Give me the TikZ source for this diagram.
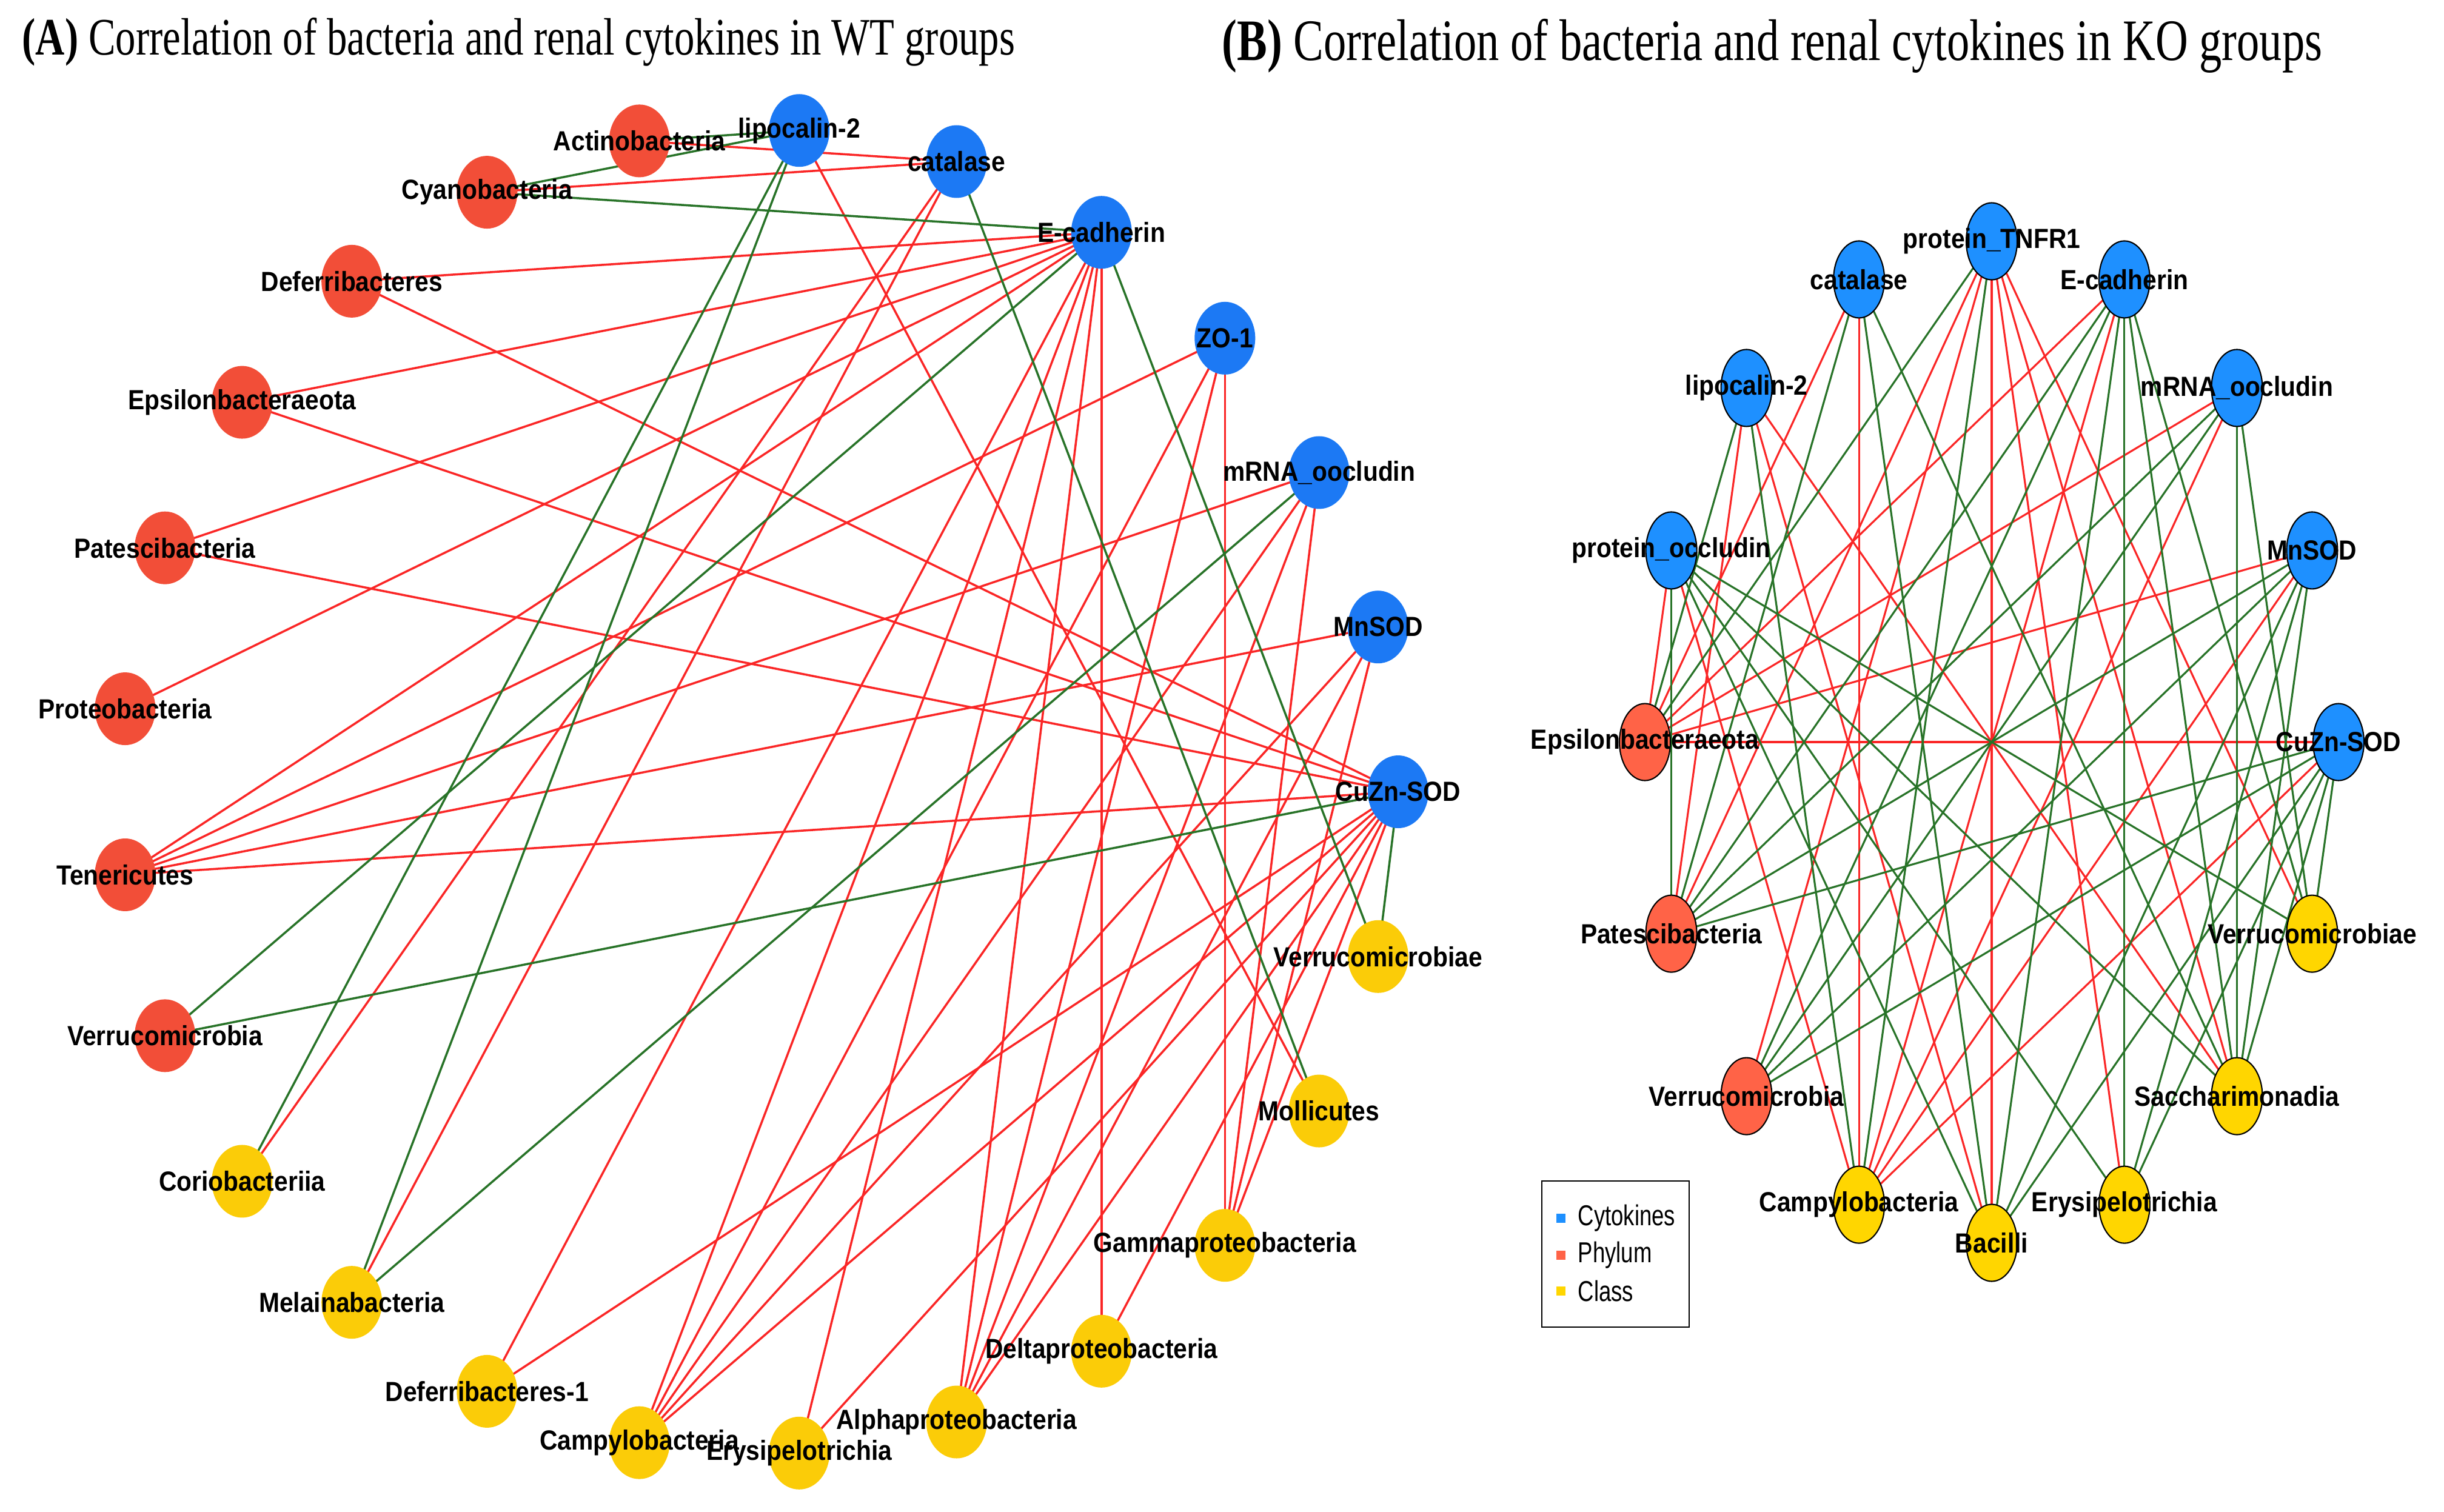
\documentclass[tikz,border=0pt]{standalone}
\usepackage{fontspec}
\setmainfont{Liberation Serif}
\setsansfont{Liberation Sans}
\usetikzlibrary{shapes.geometric}

% node and edge colours
\definecolor{aBlue}{RGB}{28,121,244}
\definecolor{aRed}{RGB}{242,78,56}
\definecolor{aYellow}{RGB}{251,204,8}
\definecolor{bBlue}{RGB}{30,144,255}
\definecolor{bRed}{RGB}{255,99,71}
\definecolor{bYellow}{RGB}{255,214,0}
\definecolor{posRed}{RGB}{250,38,38}
\definecolor{negGreen}{RGB}{40,115,40}

\pgfdeclarelayer{edges}
\pgfsetlayers{edges,main}

\tikzset{
  anode/.style={ellipse, minimum width=1cm, minimum height=1.2cm, inner sep=0pt},
  bnode/.style={ellipse, draw=black, line width=0.6pt, minimum width=0.84cm, minimum height=1.27cm, inner sep=0pt},
  nlbl/.style={font=\sffamily\bfseries\fontsize{11.6}{12}\selectfont, inner sep=0pt, yscale=1.12, transform shape},
  ttl/.style={font=\fontsize{19}{22}\selectfont, inner sep=0pt, yscale=1.3, transform shape},
  redA/.style={draw=posRed, line width=1.0pt},
  greenA/.style={draw=negGreen, line width=1.0pt},
  redB/.style={draw=posRed, line width=0.9pt},
  greenB/.style={draw=negGreen, line width=0.9pt},
}

\begin{document}
\begin{tikzpicture}

    \useasboundingbox (0,0) rectangle (40.31,-24.93);

    % TITLES
    \node[ttl, anchor=base west] (titleA) at (0.36,-0.90)
        {\textbf{(A)} Correlation of bacteria and renal cytokines in WT groups};
    \node[ttl, font=\fontsize{21.2}{24}\selectfont, anchor=base west] (titleB) at (20.15,-0.99)
        {\textbf{(B)} Correlation of bacteria and renal cytokines in KO groups};

    % LEFT PART (WT), 25 nodes on a circle

    % Cytokines
    \foreach \n/\a in {aCuZn/0, aMnSOD/14.4, aMRNA/28.8, aZO/43.2, aEcad/57.6, aCat/72, aLcn/86.4}
        \node[anode, fill=aBlue] (\n) at ([shift={(12.52,-13.06)}]\a:10.54 and 10.93) {};
    % Phylum
    \foreach \n/\a in {aActino/100.8, aCyano/115.2, aDefer/129.6, aEpsi/144, aPates/158.4,
                       aProteo/172.8, aTeneri/187.2, aVerru/201.6}
        \node[anode, fill=aRed] (\n) at ([shift={(12.52,-13.06)}]\a:10.54 and 10.93) {};
    % Class
    \foreach \n/\a in {aCorio/216, aMelai/230.4, aDeferB/244.8, aCampy/259.2, aErysi/273.6,
                       aAlpha/288, aDelta/302.4, aGamma/316.8, aMolli/331.2, aVerrae/345.6}
        \node[anode, fill=aYellow] (\n) at ([shift={(12.52,-13.06)}]\a:10.54 and 10.93) {};

    % Labels
    \foreach \n/\t in {aCuZn/CuZn-SOD, aMnSOD/MnSOD, aMRNA/mRNA\_oocludin, aZO/ZO-1,
                       aEcad/E-cadherin, aCat/catalase, aLcn/lipocalin-2,
                       aActino/Actinobacteria, aCyano/Cyanobacteria, aDefer/Deferribacteres,
                       aEpsi/Epsilonbacteraeota, aPates/Patescibacteria, aProteo/Proteobacteria,
                       aTeneri/Tenericutes, aVerru/Verrucomicrobia, aCorio/Coriobacteriia,
                       aMelai/Melainabacteria, aDeferB/Deferribacteres-1, aCampy/Campylobacteria,
                       aErysi/Erysipelotrichia, aAlpha/Alphaproteobacteria, aDelta/Deltaproteobacteria,
                       aGamma/Gammaproteobacteria, aMolli/Mollicutes, aVerrae/Verrucomicrobiae}
        \node[nlbl] (\n-t) at (\n) {\t};

    % Edges
    \begin{pgfonlayer}{edges}
    \foreach \u/\v in {aActino/aCat, aCyano/aCat, aDefer/aEcad, aDefer/aCuZn, aEpsi/aEcad,
                       aEpsi/aCuZn, aPates/aEcad, aPates/aCuZn, aProteo/aEcad,
                       aTeneri/aEcad, aTeneri/aZO, aTeneri/aMRNA, aTeneri/aMnSOD, aTeneri/aCuZn,
                       aCorio/aCat, aMelai/aCat, aDeferB/aEcad, aDeferB/aCuZn,
                       aCampy/aEcad, aCampy/aZO, aCampy/aMRNA, aCampy/aMnSOD, aCampy/aCuZn,
                       aErysi/aEcad, aErysi/aCuZn,
                       aAlpha/aEcad, aAlpha/aZO, aAlpha/aMRNA, aAlpha/aMnSOD, aAlpha/aCuZn,
                       aDelta/aEcad, aDelta/aCuZn,
                       aGamma/aZO, aGamma/aMRNA, aGamma/aMnSOD, aGamma/aCuZn, aMolli/aLcn}
        \draw[redA] (\u.center) -- (\v.center);
    \foreach \u/\v in {aActino/aLcn, aCyano/aLcn, aCyano/aEcad, aCorio/aLcn, aMelai/aLcn,
                       aMelai/aMRNA, aVerru/aEcad, aVerru/aCuZn, aMolli/aCat,
                       aVerrae/aEcad, aVerrae/aCuZn}
        \draw[greenA] (\u.center) -- (\v.center);
    \end{pgfonlayer}

    % RIGHT PART (KO), 16 nodes on an ellipse

    % Cytokines
    \foreach \n/\a in {bCuZn/0, bMnSOD/22.5, bMRNA/45, bEcad/67.5, bTNF/90, bCat/112.5,
                       bLcn/135, bOccl/157.5}
        \node[bnode, fill=bBlue] (\n) at ([shift={(32.85,-12.24)}]\a:5.72 and 8.26) {};
    % Phylum
    \foreach \n/\a in {bEpsi/180, bPates/202.5, bVerru/225}
        \node[bnode, fill=bRed] (\n) at ([shift={(32.85,-12.24)}]\a:5.72 and 8.26) {};
    % Class
    \foreach \n/\a in {bCampy/247.5, bBacil/270, bErysi/292.5, bSacch/315, bVerrae/337.5}
        \node[bnode, fill=bYellow] (\n) at ([shift={(32.85,-12.24)}]\a:5.72 and 8.26) {};

    % Labels
    \foreach \n/\t in {bCuZn/CuZn-SOD, bMnSOD/MnSOD, bMRNA/mRNA\_oocludin, bEcad/E-cadherin,
                       bTNF/protein\_TNFR1, bCat/catalase, bLcn/lipocalin-2,
                       bOccl/protein\_occludin, bEpsi/Epsilonbacteraeota, bPates/Patescibacteria,
                       bVerru/Verrucomicrobia, bCampy/Campylobacteria, bBacil/Bacilli,
                       bErysi/Erysipelotrichia, bSacch/Saccharimonadia, bVerrae/Verrucomicrobiae}
        \node[nlbl] (\n-t) at (\n) {\t};

    % Edges
    \begin{pgfonlayer}{edges}
    \foreach \u/\v in {bEpsi/bOccl, bEpsi/bCat, bEpsi/bEcad, bEpsi/bMRNA, bEpsi/bMnSOD, bEpsi/bCuZn,
                       bPates/bLcn, bPates/bTNF, bVerru/bTNF,
                       bCampy/bOccl, bCampy/bCat, bCampy/bEcad, bCampy/bMRNA, bCampy/bMnSOD, bCampy/bCuZn,
                       bBacil/bLcn, bBacil/bTNF, bErysi/bTNF, bSacch/bLcn, bSacch/bTNF, bVerrae/bTNF}
        \draw[redB] (\u.center) -- (\v.center);
    \foreach \u/\v in {bEpsi/bLcn, bEpsi/bTNF,
                       bPates/bOccl, bPates/bCat, bPates/bEcad, bPates/bMRNA, bPates/bMnSOD, bPates/bCuZn,
                       bVerru/bEcad, bVerru/bMRNA, bVerru/bMnSOD, bVerru/bCuZn,
                       bCampy/bLcn, bCampy/bTNF,
                       bBacil/bOccl, bBacil/bCat, bBacil/bEcad, bBacil/bMnSOD, bBacil/bCuZn,
                       bErysi/bOccl, bErysi/bEcad, bErysi/bMnSOD, bErysi/bCuZn,
                       bSacch/bOccl, bSacch/bCat, bSacch/bEcad, bSacch/bMRNA, bSacch/bMnSOD, bSacch/bCuZn,
                       bVerrae/bOccl, bVerrae/bEcad, bVerrae/bMRNA, bVerrae/bCuZn}
        \draw[greenB] (\u.center) -- (\v.center);
    \end{pgfonlayer}

    % Legend
    \node[draw=black, line width=0.7pt, minimum width=2.43cm, minimum height=2.41cm,
          inner sep=0pt, anchor=north west] (legend) at (25.42,-19.47) {};
    \foreach \k/\c/\t/\y in {keyCyt/bBlue/Cytokines/-20.09, keyPhy/bRed/Phylum/-20.70,
                             keyCls/bYellow/Class/-21.29} {
        \node[fill=\c, minimum size=0.15cm, inner sep=0pt] (\k) at (25.74,\y) {};
        \node[font=\sffamily\fontsize{10.4}{12}\selectfont, inner sep=0pt, anchor=west,
              yscale=1.3, transform shape] (\k-t) at (26.02,\y) {\t};
    }

\end{tikzpicture}
\end{document}
